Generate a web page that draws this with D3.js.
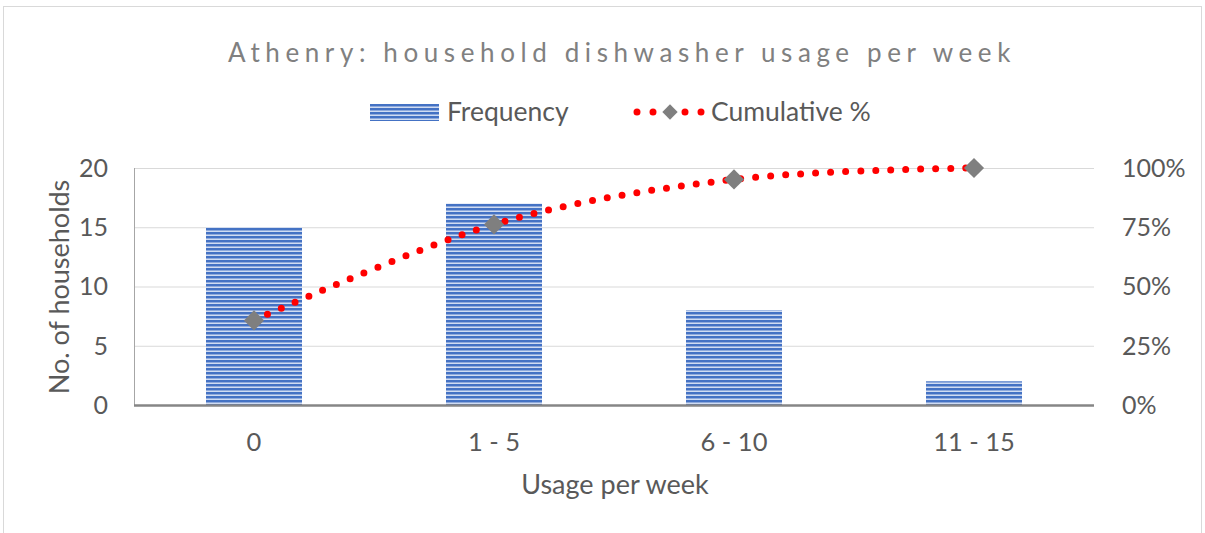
<!DOCTYPE html>
<html>
<head>
<meta charset="utf-8">
<script src="https://cdn.jsdelivr.net/npm/d3@7"></script>
<style>
  body { margin: 0; background: #fff; }
  svg { display: block; font-family: Lato, "Open Sans", sans-serif; }
</style>
</head>
<body>
<svg width="1205" height="533"></svg>
<script>
const categories = ["0", "1 - 5", "6 - 10", "11 - 15"];
const frequency = [15, 17, 8, 2];
const cumulative = [0.357, 0.762, 0.952, 1.0];
const leftTicks = [0, 5, 10, 15, 20];
const rightTicks = [0, 0.25, 0.5, 0.75, 1];

const width = 1205, height = 533;
const margin = ({ top: 168, right: 110, bottom: 127, left: 134 });
const textColor = "#595959";

const svg = d3.select("svg");

// frame
svg.append("rect")
  .attr("x", 3.5).attr("y", 6.5)
  .attr("width", 1198).attr("height", 540)
  .attr("fill", "none").attr("stroke", "#d9d9d9");

// bar stripe pattern
const pat = svg.append("defs").append("pattern")
  .attr("id", "stripes")
  .attr("patternUnits", "userSpaceOnUse")
  .attr("width", 8).attr("height", 4);
pat.append("rect").attr("width", 8).attr("height", 4).attr("fill", "#d0dcf2");
pat.append("rect").attr("y", 0).attr("width", 8).attr("height", 2).attr("fill", "#4472c4");
pat.append("rect").attr("y", 2).attr("width", 8).attr("height", 1).attr("fill", "#8faadc");

x = d3.scaleBand()
  .domain(categories)
  .range([margin.left, width - margin.right - 1])
  .paddingInner(0.6)
  .paddingOuter(0.3);

y = d3.scaleLinear()
  .domain([0, 20])
  .range([height - margin.bottom - 1, margin.top]);

y2 = d3.scaleLinear()
  .domain([0, 1])
  .range([height - margin.bottom - 1, margin.top]);

const x0 = margin.left, x1 = width - margin.right - 1;

// gridlines
svg.append("g")
  .selectAll("line")
  .data(leftTicks.filter(d => d > 0))
  .join("line")
  .attr("x1", x0).attr("x2", x1)
  .attr("y1", d => y(d) + 0.5).attr("y2", d => y(d) + 0.5)
  .attr("stroke", "#d9d9d9").attr("stroke-width", 1);

// left axis line
svg.append("line")
  .attr("x1", x0 + 0.5).attr("x2", x0 + 0.5)
  .attr("y1", y(20)).attr("y2", y(0))
  .attr("stroke", "#a6a6a6");

// bars
svg.append("g")
  .selectAll("rect")
  .data(categories.map((c, i) => ({ c, v: frequency[i] })))
  .join("rect")
  .attr("x", d => x(d.c))
  .attr("y", d => y(d.v))
  .attr("width", x.bandwidth())
  .attr("height", d => y(0) - y(d.v))
  .attr("fill", "url(#stripes)");

// x axis line
svg.append("line")
  .attr("x1", x0).attr("x2", x1)
  .attr("y1", y(0) + 0.5).attr("y2", y(0) + 0.5)
  .attr("stroke", "#868686").attr("stroke-width", 2.5);

// left tick labels
svg.append("g")
  .selectAll("text")
  .data(leftTicks)
  .join("text")
  .attr("x", 108)
  .attr("y", d => y(d))
  .attr("dy", "0.35em")
  .attr("text-anchor", "end")
  .attr("fill", textColor)
  .attr("font-size", 25)
  .text(d => d);

// right tick labels
svg.append("g")
  .selectAll("text")
  .data(rightTicks)
  .join("text")
  .attr("x", 1122)
  .attr("y", d => y2(d))
  .attr("dy", "0.35em")
  .attr("fill", textColor)
  .attr("font-size", 25)
  .text(d => d3.format(".0%")(d));

// category labels
svg.append("g")
  .selectAll("text")
  .data(categories)
  .join("text")
  .attr("x", d => x(d) + x.bandwidth() / 2)
  .attr("y", 451)
  .attr("text-anchor", "middle")
  .attr("fill", textColor)
  .attr("font-size", 25.5)
  .text(d => d);

// cumulative line
const pts = categories.map((c, i) => [x(c) + x.bandwidth() / 2, y2(cumulative[i])]);
svg.append("path")
  .attr("d", d3.line().curve(d3.curveCardinal.tension(0))(pts))
  .attr("fill", "none")
  .attr("stroke", "#ff0000")
  .attr("stroke-width", 7)
  .attr("stroke-linecap", "round")
  .attr("stroke-dasharray", "0 15");

const diamond = d3.symbol().type(d3.symbolDiamond2).size(260);
svg.append("g")
  .selectAll("path")
  .data(pts)
  .join("path")
  .attr("transform", d => `translate(${d[0]},${d[1]})`)
  .attr("d", diamond)
  .attr("fill", "#7f7f7f");

// title
svg.append("text")
  .attr("x", 622).attr("y", 62)
  .attr("text-anchor", "middle")
  .attr("fill", "#808080")
  .attr("font-size", 26)
  .attr("letter-spacing", 5.6)
  .text("Athenry: household dishwasher usage per week");

// legend
const legend = svg.append("g");
legend.append("rect")
  .attr("x", 370).attr("y", 104)
  .attr("width", 69).attr("height", 17)
  .attr("fill", "url(#stripes)");
legend.append("text")
  .attr("x", 447).attr("y", 112)
  .attr("dy", "0.35em")
  .attr("fill", textColor)
  .attr("font-size", 26.5)
  .text("Frequency");
legend.append("path")
  .attr("d", `M637,112H704`)
  .attr("stroke", "#ff0000")
  .attr("stroke-width", 7)
  .attr("stroke-linecap", "round")
  .attr("stroke-dasharray", "0 16");
legend.append("path")
  .attr("transform", "translate(670,112)")
  .attr("d", d3.symbol().type(d3.symbolDiamond2).size(150))
  .attr("fill", "#7f7f7f");
legend.append("text")
  .attr("x", 711).attr("y", 112)
  .attr("dy", "0.35em")
  .attr("fill", textColor)
  .attr("font-size", 26.5)
  .text("Cumulative %");

// axis titles
svg.append("text")
  .attr("transform", "translate(69,287) rotate(-90)")
  .attr("text-anchor", "middle")
  .attr("fill", textColor)
  .attr("font-size", 27)
  .text("No. of households");

svg.append("text")
  .attr("x", 615).attr("y", 494)
  .attr("text-anchor", "middle")
  .attr("fill", textColor)
  .attr("font-size", 27)
  .text("Usage per week");
</script>
</body>
</html>
